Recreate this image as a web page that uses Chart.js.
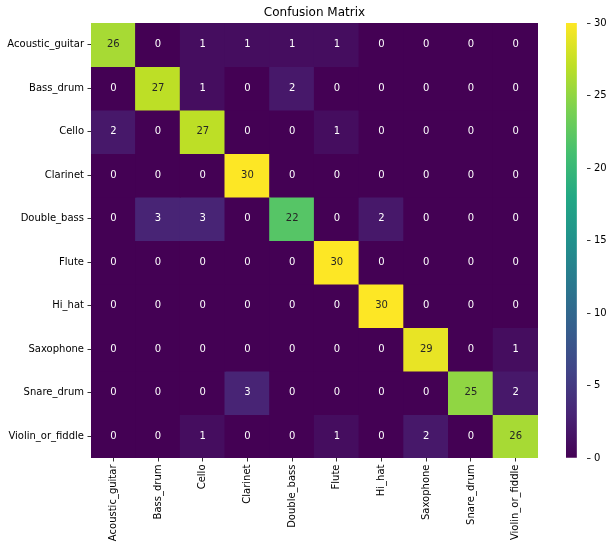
<!DOCTYPE html>
<html>
<head>
<meta charset="utf-8">
<script src="https://cdn.jsdelivr.net/npm/chart.js@4.4.1/dist/chart.umd.min.js"></script>
<style>
  html, body { margin: 0; padding: 0; background: #ffffff; }
  #wrap { position: relative; width: 614px; height: 549px; overflow: hidden; }
  #main { position: absolute; left: 0; top: 0; }
  #cbar { position: absolute; left: 540px; top: 0; }
</style>
</head>
<body>
<div id="wrap">
  <canvas id="main" width="629" height="549"></canvas>
  <canvas id="cbar" width="74" height="549"></canvas>
</div>
<script>
// ---- data ----
const categories = ["Acoustic_guitar", "Bass_drum", "Cello", "Clarinet", "Double_bass",
                    "Flute", "Hi_hat", "Saxophone", "Snare_drum", "Violin_or_fiddle"];
const rowAcousticGuitar = [26, 0, 1, 1, 1, 1, 0, 0, 0, 0];
const rowBassDrum       = [0, 27, 1, 0, 2, 0, 0, 0, 0, 0];
const rowCello          = [2, 0, 27, 0, 0, 1, 0, 0, 0, 0];
const rowClarinet       = [0, 0, 0, 30, 0, 0, 0, 0, 0, 0];
const rowDoubleBass     = [0, 3, 3, 0, 22, 0, 2, 0, 0, 0];
const rowFlute          = [0, 0, 0, 0, 0, 30, 0, 0, 0, 0];
const rowHiHat          = [0, 0, 0, 0, 0, 0, 30, 0, 0, 0];
const rowSaxophone      = [0, 0, 0, 0, 0, 0, 0, 29, 0, 1];
const rowSnareDrum      = [0, 0, 0, 3, 0, 0, 0, 0, 25, 2];
const rowViolinOrFiddle = [0, 0, 1, 0, 0, 1, 0, 2, 0, 26];
const matrixRows = [rowAcousticGuitar, rowBassDrum, rowCello, rowClarinet, rowDoubleBass,
                    rowFlute, rowHiHat, rowSaxophone, rowSnareDrum, rowViolinOrFiddle];
const colorbarTicks = [0, 5, 10, 15, 20, 25, 30];
const vmin = 0, vmax = 30;

// ---- viridis colormap ----
const viridisStops = ["#440154", "#482475", "#414487", "#355f8d", "#2a788e",
                      "#21918c", "#22a884", "#44bf70", "#7ad151", "#bddf26", "#fde725"];
function hexToRgb(h) { return [parseInt(h.slice(1,3),16), parseInt(h.slice(3,5),16), parseInt(h.slice(5,7),16)]; }
const viridisRgb = viridisStops.map(hexToRgb);
function viridis(t) {
  t = Math.max(0, Math.min(1, t));
  const n = viridisRgb.length - 1;
  const p = t * n;
  const i = Math.min(Math.floor(p), n - 1);
  const f = p - i;
  const a = viridisRgb[i], b = viridisRgb[i + 1];
  return [0,1,2].map(k => Math.round(a[k] + (b[k] - a[k]) * f));
}
function cellColor(v) {
  const c = viridis((v - vmin) / (vmax - vmin));
  return `rgb(${c[0]},${c[1]},${c[2]})`;
}
function textColorFor(v) {
  const c = viridis((v - vmin) / (vmax - vmin)).map(x => {
    x /= 255; return x <= 0.03928 ? x / 12.92 : Math.pow((x + 0.055) / 1.055, 2.4);
  });
  const lum = 0.2126 * c[0] + 0.7152 * c[1] + 0.0722 * c[2];
  return lum > 0.408 ? "#262626" : "#ffffff";
}

const FONT = "'DejaVu Sans', sans-serif";
Chart.defaults.font.family = FONT;
Chart.defaults.color = "#000000";

const datasets = matrixRows.map((row, r) => ({
  label: categories[r],
  data: row.map(() => [r, r + 1]),
  values: row,
  backgroundColor: row.map(cellColor),
  borderWidth: 0,
  inflateAmount: 0.6,
  barPercentage: 1.0,
  categoryPercentage: 1.0,
  grouped: false
}));

const annotatePlugin = {
  id: 'annotate',
  afterDatasetsDraw(chart) {
    const ctx = chart.ctx;
    ctx.save();
    ctx.font = "10px " + FONT;
    ctx.textAlign = "center";
    ctx.textBaseline = "middle";
    chart.data.datasets.forEach((ds, di) => {
      const meta = chart.getDatasetMeta(di);
      meta.data.forEach((el, i) => {
        const v = ds.values[i];
        ctx.fillStyle = textColorFor(v);
        ctx.fillText(String(v), el.x, (el.y + el.base) / 2);
      });
    });
    ctx.restore();
  }
};

new Chart(document.getElementById('main'), {
  type: 'bar',
  data: { labels: categories, datasets },
  plugins: [annotatePlugin],
  options: {
    responsive: false,
    animation: false,
    events: [],
    layout: { padding: 0 },
    plugins: {
      legend: { display: false },
      tooltip: { enabled: false },
      title: {
        display: true,
        text: "Confusion Matrix",
        color: "#000000",
        font: { size: 12, weight: 'normal', family: FONT, lineHeight: 1.2 },
        padding: { top: 6, bottom: 2.6 }
      }
    },
    scales: {
      x: {
        type: 'category',
        offset: true,
        grid: { display: true, drawOnChartArea: false, offset: false, tickLength: 3.5, color: "#000000", tickWidth: 0.8 },
        border: { display: false },
        ticks: { autoSkip: false, minRotation: 90, maxRotation: 90, padding: 3, color: "#000000", font: { size: 10, family: FONT } },
        afterFit(scale) { scale.height = 91; }
      },
      y: {
        type: 'linear',
        min: 0, max: 10,
        reverse: true,
        grid: { display: true, drawOnChartArea: false, tickLength: 3.5, color: "#000000", tickWidth: 0.8 },
        border: { display: false },
        afterBuildTicks(scale) { scale.ticks = categories.map((_, i) => ({ value: i + 0.5 })); },
        ticks: {
          autoSkip: false,
          padding: 3.5,
          color: "#000000",
          font: { size: 10, family: FONT },
          callback: (v) => categories[Math.floor(v)]
        },
        afterFit(scale) { scale.width = 91; }
      },
      yRightSpace: {
        type: 'linear',
        position: 'right',
        display: true,
        grid: { display: false },
        border: { display: false },
        ticks: { display: false },
        afterFit(scale) { scale.width = 91; }
      }
    }
  }
});

// ---- colorbar ----
new Chart(document.getElementById('cbar'), {
  type: 'bar',
  data: {
    labels: [''],
    datasets: [{
      data: [[vmin, vmax]],
      borderWidth: 0,
      barPercentage: 1.0,
      categoryPercentage: 1.0,
      backgroundColor(context) {
        const chart = context.chart;
        const ys = chart.scales.y;
        if (!chart.chartArea || !ys) return viridisStops[0];
        const g = chart.ctx.createLinearGradient(0, ys.getPixelForValue(vmin), 0, ys.getPixelForValue(vmax));
        viridisStops.forEach((c, i) => g.addColorStop(i / (viridisStops.length - 1), c));
        return g;
      }
    }]
  },
  options: {
    responsive: false,
    animation: false,
    events: [],
    layout: { padding: { left: 26, right: 0, top: 23, bottom: 91 } },
    plugins: { legend: { display: false }, tooltip: { enabled: false }, title: { display: false } },
    scales: {
      x: { display: false, offset: false },
      y: {
        position: 'right',
        min: vmin, max: vmax,
        grid: { display: true, drawOnChartArea: false, tickLength: 3.5, color: "#000000", tickWidth: 0.8 },
        border: { display: false },
        afterBuildTicks(scale) { scale.ticks = colorbarTicks.map(v => ({ value: v })); },
        ticks: { padding: 3.5, color: "#000000", font: { size: 10, family: FONT } },
        afterFit(scale) { scale.width = 27; }
      }
    }
  }
});
</script>
</body>
</html>
